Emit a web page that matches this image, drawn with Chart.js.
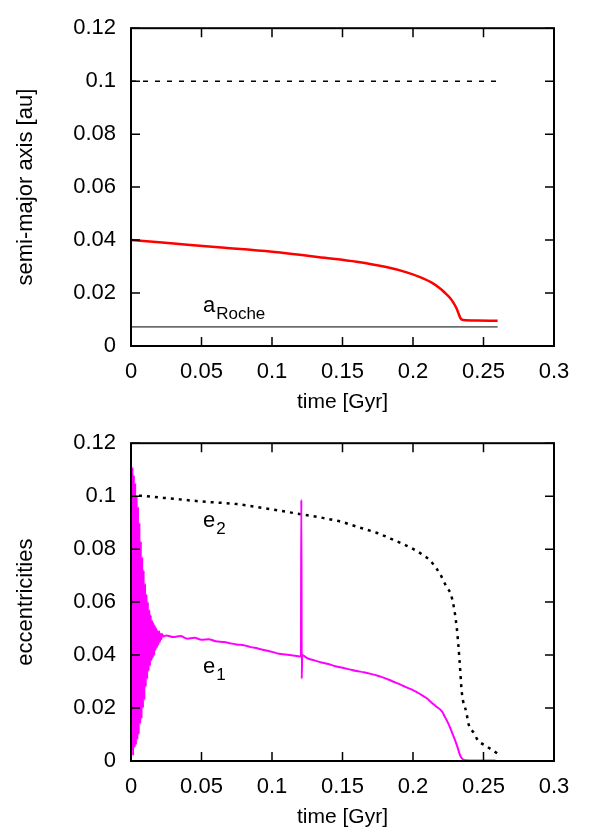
<!DOCTYPE html>
<html>
<head>
<meta charset="utf-8">
<script src="https://cdn.jsdelivr.net/npm/chart.js@4.4.0/dist/chart.umd.min.js"></script>
<style>
  body { margin: 0; background: #fff; }
  .panel { width: 593px; height: 415px; position: relative; }
</style>
</head>
<body>
<div class="panel"><canvas id="axisChart"></canvas></div>
<div class="panel"><canvas id="eccChart"></canvas></div>
<script>
// semi-major axis of the inner planet [au] vs time [Gyr]
const aTime = [0, 0.02, 0.04, 0.0664, 0.1, 0.1375, 0.16, 0.181, 0.195, 0.205, 0.213, 0.219, 0.2226, 0.226, 0.2285, 0.231, 0.2325, 0.2338, 0.2358, 0.2453, 0.26];
const aValues = [0.0400, 0.0392, 0.0382, 0.0371, 0.0356, 0.0333, 0.0318, 0.0298, 0.0279, 0.0260, 0.0240, 0.0218, 0.0201, 0.0183, 0.0165, 0.0141, 0.0120, 0.0104, 0.0098, 0.0096, 0.0095];

// reference lines in the top panel
const outerLevel = 0.1;
const rocheLevel = 0.0072;
const lineEnd = 0.26;

// e1 : inner planet eccentricity
const e1Time = [
  0, 0.0005, 0.001, 0.0015, 0.002, 0.0025, 0.003, 0.0035, 0.004, 0.0045,
  0.005, 0.0055, 0.006, 0.0065, 0.007, 0.0075, 0.008, 0.0085, 0.009, 0.0095,
  0.010, 0.0105, 0.011, 0.0115, 0.012, 0.0125, 0.013, 0.0135, 0.014, 0.0145,
  0.015, 0.0155, 0.016, 0.0165, 0.017, 0.0175, 0.018, 0.0185, 0.019, 0.0195,
  0.020, 0.0205, 0.021, 0.0215, 0.022, 0.023,
  0.025, 0.03, 0.035, 0.04, 0.045, 0.05, 0.055, 0.06, 0.066, 0.07,
  0.075, 0.08, 0.085, 0.09, 0.095, 0.1, 0.105, 0.11, 0.115, 0.1205,
  0.1208, 0.1211, 0.1214, 0.125, 0.13, 0.135, 0.14, 0.145, 0.15, 0.155,
  0.16, 0.165, 0.17, 0.175, 0.18, 0.185, 0.19, 0.195, 0.2003, 0.205,
  0.21, 0.2121, 0.216, 0.2204, 0.2225, 0.2251, 0.2275, 0.2299, 0.232, 0.2334,
  0.235, 0.237, 0.245, 0.2585
];
const e1Values = [
  0.113, 0.004, 0.111, 0.002, 0.108, 0.005, 0.105, 0.006, 0.100, 0.008,
  0.096, 0.010, 0.090, 0.014, 0.083, 0.016, 0.077, 0.020, 0.072, 0.023,
  0.067, 0.028, 0.063, 0.031, 0.060, 0.034, 0.057, 0.036, 0.055, 0.038,
  0.053, 0.039, 0.052, 0.040, 0.051, 0.042, 0.050, 0.043, 0.049, 0.044,
  0.049, 0.045, 0.048, 0.046, 0.048, 0.047,
  0.0474, 0.0468, 0.0472, 0.0462, 0.0465, 0.0458, 0.0460, 0.0452, 0.0449, 0.0445,
  0.0440, 0.0437, 0.0430, 0.0425, 0.0418, 0.0412, 0.0405, 0.0402, 0.0398, 0.0395,
  0.0987, 0.0311, 0.0400, 0.0388, 0.0380, 0.0372, 0.0366, 0.0358, 0.0352, 0.0346,
  0.0340, 0.0335, 0.0329, 0.0322, 0.0313, 0.0302, 0.0291, 0.0279, 0.0267, 0.0253,
  0.0236, 0.0226, 0.0208, 0.0188, 0.0168, 0.0141, 0.0110, 0.0078, 0.0045, 0.0021,
  0.0008, 0.0003, 0.0002, 0.0002
];

// e2 : outer planet eccentricity
const e2Time = [0, 0.003, 0.01, 0.03, 0.05, 0.075, 0.1, 0.117, 0.136, 0.15, 0.16, 0.174, 0.184, 0.2, 0.207, 0.2121, 0.2192, 0.2235, 0.2275, 0.231, 0.233, 0.2346, 0.238, 0.2393, 0.244, 0.2453, 0.2524, 0.26];
const e2Values = [0.1005, 0.1003, 0.1000, 0.0990, 0.0980, 0.0970, 0.0950, 0.0935, 0.0918, 0.0902, 0.0885, 0.0862, 0.0840, 0.0801, 0.0778, 0.0757, 0.0706, 0.0660, 0.0618, 0.0505, 0.0380, 0.0260, 0.0180, 0.0141, 0.0100, 0.0084, 0.0055, 0.0028];

const xMin = 0, xMax = 0.3, xStep = 0.05;
const yMin = 0, yMax = 0.12, yStep = 0.02;

function zip(ts, vs) {
  return ts.map(function (t, i) { return { x: t, y: vs[i] }; });
}

const fontFamily = "'Liberation Sans', Arial, sans-serif";
Chart.defaults.font.family = fontFamily;
Chart.defaults.font.size = 22;
Chart.defaults.color = "#000";
Chart.defaults.animation = false;

// gnuplot style frame: box border, inward mirrored ticks, text labels
const gnuplotFrame = {
  id: "gnuplotFrame",
  afterDatasetsDraw(chart, args, opts) {
    const ctx = chart.ctx;
    const a = chart.chartArea;
    const xs = chart.scales.x;
    const ys = chart.scales.y;
    ctx.save();
    ctx.strokeStyle = "#000";
    ctx.lineWidth = 1.5;
    ctx.beginPath();
    xs.ticks.forEach(function (t) {
      const px = xs.getPixelForValue(t.value);
      ctx.moveTo(px, a.bottom); ctx.lineTo(px, a.bottom - 9);
      ctx.moveTo(px, a.top); ctx.lineTo(px, a.top + 9);
    });
    ys.ticks.forEach(function (t) {
      const py = ys.getPixelForValue(t.value);
      ctx.moveTo(a.left, py); ctx.lineTo(a.left + 9, py);
      ctx.moveTo(a.right, py); ctx.lineTo(a.right - 9, py);
    });
    ctx.stroke();
    ctx.lineWidth = 2;
    ctx.strokeRect(a.left, a.top, a.right - a.left, a.bottom - a.top);
    (opts.labels || []).forEach(function (lab) {
      const px = xs.getPixelForValue(lab.t);
      const py = ys.getPixelForValue(lab.v);
      ctx.fillStyle = "#000";
      ctx.textBaseline = "alphabetic";
      ctx.textAlign = "left";
      ctx.font = "22px " + fontFamily;
      ctx.fillText(lab.main, px, py);
      const w = ctx.measureText(lab.main).width;
      ctx.font = "17px " + fontFamily;
      ctx.fillText(lab.sub, px + w + 1, py + 7);
    });
    ctx.restore();
  }
};

function panelOptions(yTitle, labels) {
  return {
    responsive: false,
    layout: { padding: { top: 27, right: 39, left: 0, bottom: 0 } },
    plugins: {
      legend: { display: false },
      tooltip: { enabled: false },
      gnuplotFrame: { labels: labels }
    },
    elements: { point: { radius: 0 } },
    scales: {
      x: {
        type: "linear",
        min: xMin, max: xMax,
        grid: { display: false, drawTicks: false },
        border: { display: false },
        ticks: {
          stepSize: xStep, padding: 13, font: { size: 22 },
          callback: function (v) { return String(Number(v.toFixed(2))); }
        },
        title: { display: true, text: "time [Gyr]", padding: { top: 0, bottom: 0 }, font: { size: 21 } },
        afterFit: function (s) { s.height = 69; }
      },
      y: {
        type: "linear",
        min: yMin, max: yMax,
        grid: { display: false, drawTicks: false },
        border: { display: false },
        ticks: {
          stepSize: yStep, padding: 15, font: { size: 22 },
          callback: function (v) { return String(Number(v.toFixed(2))); }
        },
        title: { display: true, text: yTitle, padding: { top: 13, bottom: 0 }, font: { size: 22 } },
        afterFit: function (s) { s.width = 131; }
      }
    }
  };
}

function sizeCanvas(id) {
  const c = document.getElementById(id);
  c.width = 593; c.height = 415;
  c.style.width = "593px"; c.style.height = "415px";
  return c;
}

new Chart(sizeCanvas("axisChart"), {
  type: "line",
  data: {
    datasets: [
      {
        label: "a",
        data: zip(aTime, aValues),
        borderColor: "#ff0000",
        borderWidth: 2.5,
        cubicInterpolationMode: "monotone"
      },
      {
        label: "outer",
        data: [{ x: xMin, y: outerLevel }, { x: lineEnd, y: outerLevel }],
        borderColor: "#000",
        borderWidth: 1.5,
        borderDash: [5, 7]
      },
      {
        label: "Roche",
        data: [{ x: xMin, y: rocheLevel }, { x: lineEnd, y: rocheLevel }],
        borderColor: "#000",
        borderWidth: 1
      }
    ]
  },
  options: panelOptions("semi-major axis [au]", [{ t: 0.051, v: 0.0128, main: "a", sub: "Roche" }]),
  plugins: [gnuplotFrame]
});

new Chart(sizeCanvas("eccChart"), {
  type: "line",
  data: {
    datasets: [
      {
        label: "e1",
        data: zip(e1Time, e1Values),
        borderColor: "#ff00ff",
        borderWidth: 2,
        cubicInterpolationMode: "monotone"
      },
      {
        label: "e2",
        data: zip(e2Time, e2Values),
        borderColor: "#000",
        borderWidth: 2.5,
        borderDash: [3, 5],
        cubicInterpolationMode: "monotone"
      }
    ]
  },
  options: panelOptions("eccentricities", [
    { t: 0.051, v: 0.0882, main: "e", sub: "2" },
    { t: 0.051, v: 0.0331, main: "e", sub: "1" }
  ]),
  plugins: [gnuplotFrame]
});
</script>
</body>
</html>
